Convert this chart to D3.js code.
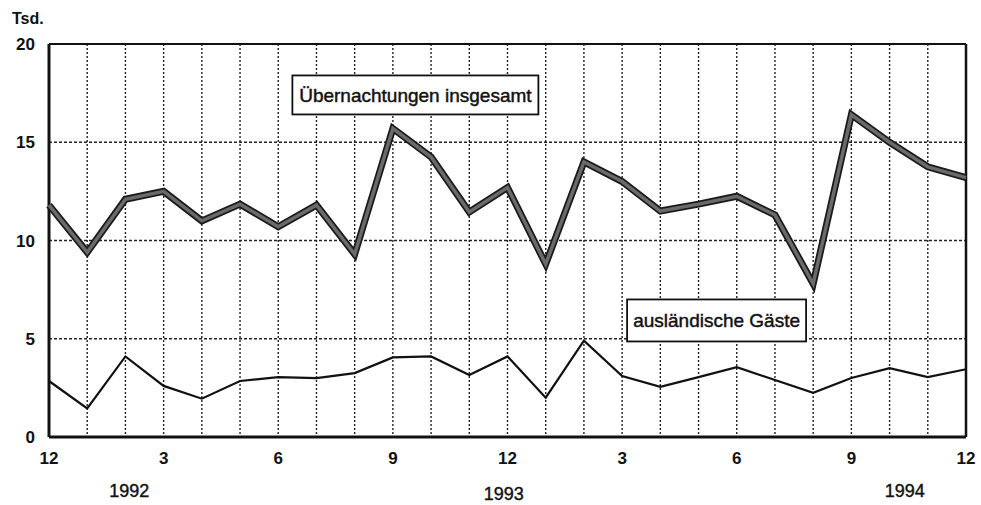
<!DOCTYPE html>
<html>
<head>
<meta charset="utf-8">
<script src="https://cdn.jsdelivr.net/npm/d3@7"></script>
<style>
  body { margin: 0; background: #fff; }
  svg text { font-family: "Liberation Sans", Arial, sans-serif; fill: #111; }
</style>
</head>
<body>
<svg width="981" height="505"></svg>
<script>
// Data: monthly overnight stays (Tsd.), Dec 1991 .. Dec 1994
var monthIdx = d3.range(0, 25);
var insgesamt = [11.8, 9.4, 12.1, 12.5, 11.0, 11.85, 10.7, 11.8, 9.3, 15.7, 14.25, 11.45, 12.7,
                 8.8, 14.0, 13.0, 11.5, 11.85, 12.25, 11.3, 7.8, 16.4, 15.0, 13.75, 13.2];
var auslaender = [2.85, 1.45, 4.1, 2.6, 1.95, 2.85, 3.05, 3.0, 3.25, 4.05, 4.1, 3.15, 4.1,
                  2.0, 4.9, 3.1, 2.55, 3.05, 3.55, 2.9, 2.25, 3.0, 3.5, 3.05, 3.45];
var monthTicks = [0, 3, 6, 9, 12, 15, 18, 21, 24];
var monthLabels = ['12', '3', '6', '9', '12', '3', '6', '9', '12'];
var yTicks = [0, 5, 10, 15, 20];
var years = ['1992', '1993', '1994'];
var yearPos = [2.1, 11.9, 22.4];

// Layout
var plotL = 49, plotR = 966, plotT = 44, plotB = 437;

var x = d3.scaleLinear().domain([0, 24]).range([plotL, plotR]);
var y = d3.scaleLinear().domain([0, 20]).range([plotB, plotT]);

var svg = d3.select('svg');

// grid: vertical dotted lines per month
svg.append('g')
  .selectAll('line')
  .data(d3.range(1, 24))
  .enter().append('line')
  .attr('x1', function (d) { return x(d); })
  .attr('x2', function (d) { return x(d); })
  .attr('y1', plotT)
  .attr('y2', plotB)
  .style('stroke', '#222')
  .style('stroke-width', 1.4)
  .style('stroke-dasharray', '2,2');

// grid: horizontal dotted lines
svg.append('g')
  .selectAll('line')
  .data([5, 10, 15])
  .enter().append('line')
  .attr('x1', plotL)
  .attr('x2', plotR)
  .attr('y1', function (d) { return y(d); })
  .attr('y2', function (d) { return y(d); })
  .style('stroke', '#222')
  .style('stroke-width', 1.4)
  .style('stroke-dasharray', '3,2');

// frame
svg.append('line').attr('x1', plotL).attr('x2', plotR).attr('y1', plotT).attr('y2', plotT)
  .style('stroke', '#111').style('stroke-width', 2);
svg.append('line').attr('x1', plotR).attr('x2', plotR).attr('y1', plotT).attr('y2', plotB)
  .style('stroke', '#111').style('stroke-width', 2.5);
svg.append('line').attr('x1', plotL).attr('x2', plotR).attr('y1', plotB).attr('y2', plotB)
  .style('stroke', '#111').style('stroke-width', 3);
svg.append('line').attr('x1', plotL).attr('x2', plotL).attr('y1', plotT).attr('y2', plotB)
  .style('stroke', '#111').style('stroke-width', 3);

// y tick labels
svg.append('g')
  .selectAll('text')
  .data(yTicks)
  .enter().append('text')
  .attr('x', 35)
  .attr('y', function (d) { return y(d) + 6; })
  .attr('text-anchor', 'end')
  .style('font-size', '17px')
  .style('font-weight', 'bold')
  .text(function (d) { return d; });

svg.append('text')
  .attr('x', 12)
  .attr('y', 24)
  .style('font-size', '16px')
  .style('font-weight', 'bold')
  .text('Tsd.');

// x tick labels
svg.append('g')
  .selectAll('text')
  .data(monthTicks)
  .enter().append('text')
  .attr('x', function (d) { return x(d); })
  .attr('y', 464)
  .attr('text-anchor', 'middle')
  .style('font-size', '17px')
  .style('font-weight', 'bold')
  .text(function (d, i) { return monthLabels[i]; });

// year labels
svg.append('g')
  .selectAll('text')
  .data(years)
  .enter().append('text')
  .attr('x', function (d, i) { return x(yearPos[i]); })
  .attr('y', function (d, i) { return i === 1 ? 500 : 497; })
  .attr('text-anchor', 'middle')
  .style('font-size', '18px')
  .style('stroke', '#111')
  .style('stroke-width', 0.4)
  .text(function (d) { return d; });

var line = d3.line()
  .x(function (d, i) { return x(monthIdx[i]); })
  .y(function (d) { return y(d); });

// total overnight stays: thick line, dark edge with grey core
svg.append('path')
  .datum(insgesamt)
  .attr('d', line)
  .style('fill', 'none')
  .style('stroke', '#1a1a1a')
  .style('stroke-width', 7)
  .style('stroke-linejoin', 'miter');
svg.append('path')
  .datum(insgesamt)
  .attr('d', line)
  .style('fill', 'none')
  .style('stroke', '#6a6a6a')
  .style('stroke-width', 3.5);

// foreign guests
svg.append('path')
  .datum(auslaender)
  .attr('d', line)
  .style('fill', 'none')
  .style('stroke', '#111')
  .style('stroke-width', 2.2);

// labels in boxes
function label(text, cx, cy, w, h) {
  var g = svg.append('g');
  g.append('rect')
    .attr('x', x(cx))
    .attr('y', y(cy))
    .attr('width', w)
    .attr('height', h)
    .style('fill', '#fff')
    .style('stroke', '#111')
    .style('stroke-width', 1.8);
  g.append('text')
    .attr('x', x(cx) + w / 2)
    .attr('y', y(cy) + h / 2 + 7)
    .attr('text-anchor', 'middle')
    .style('font-size', '19px')
    .style('stroke', '#111')
    .style('stroke-width', 0.45)
    .text(text);
}
label('Übernachtungen insgesamt', 6.37, 18.4, 246, 39);
label('ausländische Gäste', 15.13, 7.0, 179, 42);
</script>
</body>
</html>
